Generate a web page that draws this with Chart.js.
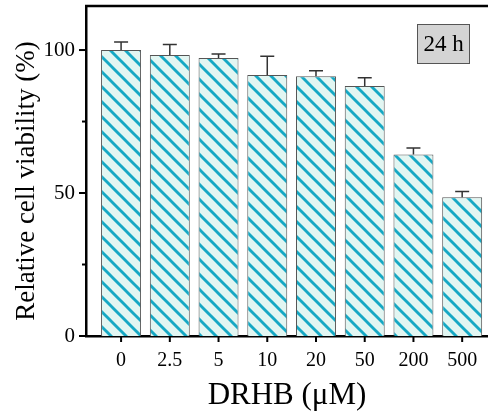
<!DOCTYPE html>
<html><head><meta charset="utf-8">
<script src="https://cdn.jsdelivr.net/npm/chart.js@4"></script>
<style>html,body{margin:0;padding:0;background:#fff;overflow:hidden}canvas{display:block}</style>
</head><body>
<canvas id="c" width="488" height="416"></canvas>
<script>
const categories = ['0', '2.5', '5', '10', '20', '50', '200', '500'];
const viability = [100, 98.3, 97.2, 91.3, 90.8, 87.4, 63.5, 48.5];
const errors = [2.8, 3.6, 1.4, 6.5, 2.0, 2.9, 2.2, 2.0];
const yMajorTicks = [0, 50, 100];
const yMinorTicks = [25, 75];
const panelLabel = '24 h';
const xTitle = 'DRHB (\u03bcM)';
const yTitle = 'Relative cell viability (%)';

const SERIF = "'Liberation Serif', 'DejaVu Serif', serif";

function makePattern() {
  const s = 15;
  const c = document.createElement('canvas');
  c.width = s; c.height = s;
  const g = c.getContext('2d');
  g.fillStyle = '#e2f6f2';
  g.fillRect(0, 0, s, s);
  g.strokeStyle = '#16a8c4';
  g.lineWidth = 2.9;
  for (const o of [-s, 0, s]) {
    g.beginPath();
    g.moveTo(o - 3, -3);
    g.lineTo(o + s + 3, s + 3);
    g.stroke();
  }
  return g.createPattern(c, 'repeat');
}

function noPad(s) {
  s.paddingTop = 0; s.paddingBottom = 0; s.paddingLeft = 0; s.paddingRight = 0;
}

const decorPlugin = {
  id: 'decor',
  afterDatasetsDraw(chart) {
    const ctx = chart.ctx;
    const xs = chart.scales.x, ys = chart.scales.y;
    ctx.save();
    ctx.strokeStyle = '#333';
    ctx.lineWidth = 1.5;
    viability.forEach((v, i) => {
      const x = xs.getPixelForValue(i);
      const y0 = ys.getPixelForValue(v);
      const y1 = ys.getPixelForValue(v + errors[i]);
      ctx.beginPath();
      ctx.moveTo(x, y0); ctx.lineTo(x, y1);
      ctx.moveTo(x - 7, y1); ctx.lineTo(x + 7, y1);
      ctx.stroke();
    });
    ctx.restore();
  },
  afterDraw(chart) {
    const ctx = chart.ctx;
    const xs = chart.scales.x, ys = chart.scales.y;
    const a = chart.chartArea;
    ctx.save();
    ctx.strokeStyle = '#000';
    ctx.lineWidth = 2.5;
    ctx.beginPath();
    ctx.moveTo(a.left - 1, a.top); ctx.lineTo(chart.width, a.top);
    ctx.stroke();
    ctx.lineWidth = 2;
    yMajorTicks.forEach(v => {
      const y = ys.getPixelForValue(v);
      ctx.beginPath(); ctx.moveTo(a.left - 7, y); ctx.lineTo(a.left, y); ctx.stroke();
    });
    yMinorTicks.forEach(v => {
      const y = ys.getPixelForValue(v);
      ctx.beginPath(); ctx.moveTo(a.left - 4, y); ctx.lineTo(a.left, y); ctx.stroke();
    });
    categories.forEach((c, i) => {
      const x = xs.getPixelForValue(i);
      ctx.beginPath(); ctx.moveTo(x, a.bottom); ctx.lineTo(x, a.bottom + 6); ctx.stroke();
    });
    // y-axis title
    ctx.save();
    ctx.translate(27, 181);
    ctx.rotate(-Math.PI / 2);
    ctx.fillStyle = '#000';
    ctx.font = '27px ' + SERIF;
    ctx.textAlign = 'center';
    ctx.textBaseline = 'middle';
    ctx.fillText(yTitle, 0, 0);
    ctx.restore();
    // panel label
    const bx = 417, by = 24, bw = 53, bh = 40;
    ctx.fillStyle = '#d4d4d4';
    ctx.fillRect(bx, by, bw, bh);
    ctx.strokeStyle = '#555';
    ctx.lineWidth = 1;
    ctx.strokeRect(bx + 0.5, by + 0.5, bw - 1, bh - 1);
    ctx.fillStyle = '#000';
    ctx.font = '23px ' + SERIF;
    ctx.textAlign = 'center';
    ctx.textBaseline = 'middle';
    ctx.fillText(panelLabel, bx + bw / 2, by + bh / 2 + 1);
    ctx.restore();
  }
};

new Chart(document.getElementById('c'), {
  type: 'bar',
  data: {
    datasets: [{
      data: categories.map((c, i) => ({ x: i, y: viability[i] })),
      backgroundColor: makePattern(),
      borderColor: '#555',
      borderWidth: 1,
      barPercentage: 0.82,
      categoryPercentage: 1
    }]
  },
  options: {
    responsive: false,
    animation: false,
    devicePixelRatio: 1,
    layout: { padding: { top: 6, left: 0, right: 0, bottom: 0 } },
    plugins: { legend: { display: false }, tooltip: { enabled: false } },
    scales: {
      x: {
        type: 'linear',
        offset: false,
        min: -0.72, max: 7.53,
        afterBuildTicks: s => { s.ticks = categories.map((c, i) => ({ value: i })); },
        ticks: {
          autoSkip: false, maxRotation: 0,
          callback: v => categories[v],
          font: { family: SERIF, size: 20 }, color: '#000', padding: 13
        },
        grid: { display: false, drawTicks: false, offset: false },
        border: { display: true, color: '#000', width: 2.5 },
        title: { display: true, text: xTitle, color: '#000', font: { family: SERIF, size: 31 }, padding: { top: 0, bottom: 2 } },
        afterFit: s => { s.height = 80; noPad(s); }
      },
      y: {
        min: 0, max: 115.4,
        afterBuildTicks: s => { s.ticks = yMajorTicks.map(v => ({ value: v })); },
        ticks: { font: { family: SERIF, size: 21 }, color: '#000', padding: 11 },
        grid: { display: false, drawTicks: false },
        border: { display: true, color: '#000', width: 2.5 },
        title: { display: false },
        afterFit: s => { s.width = 86; noPad(s); }
      }
    }
  },
  plugins: [decorPlugin]
});
</script>
</body></html>
